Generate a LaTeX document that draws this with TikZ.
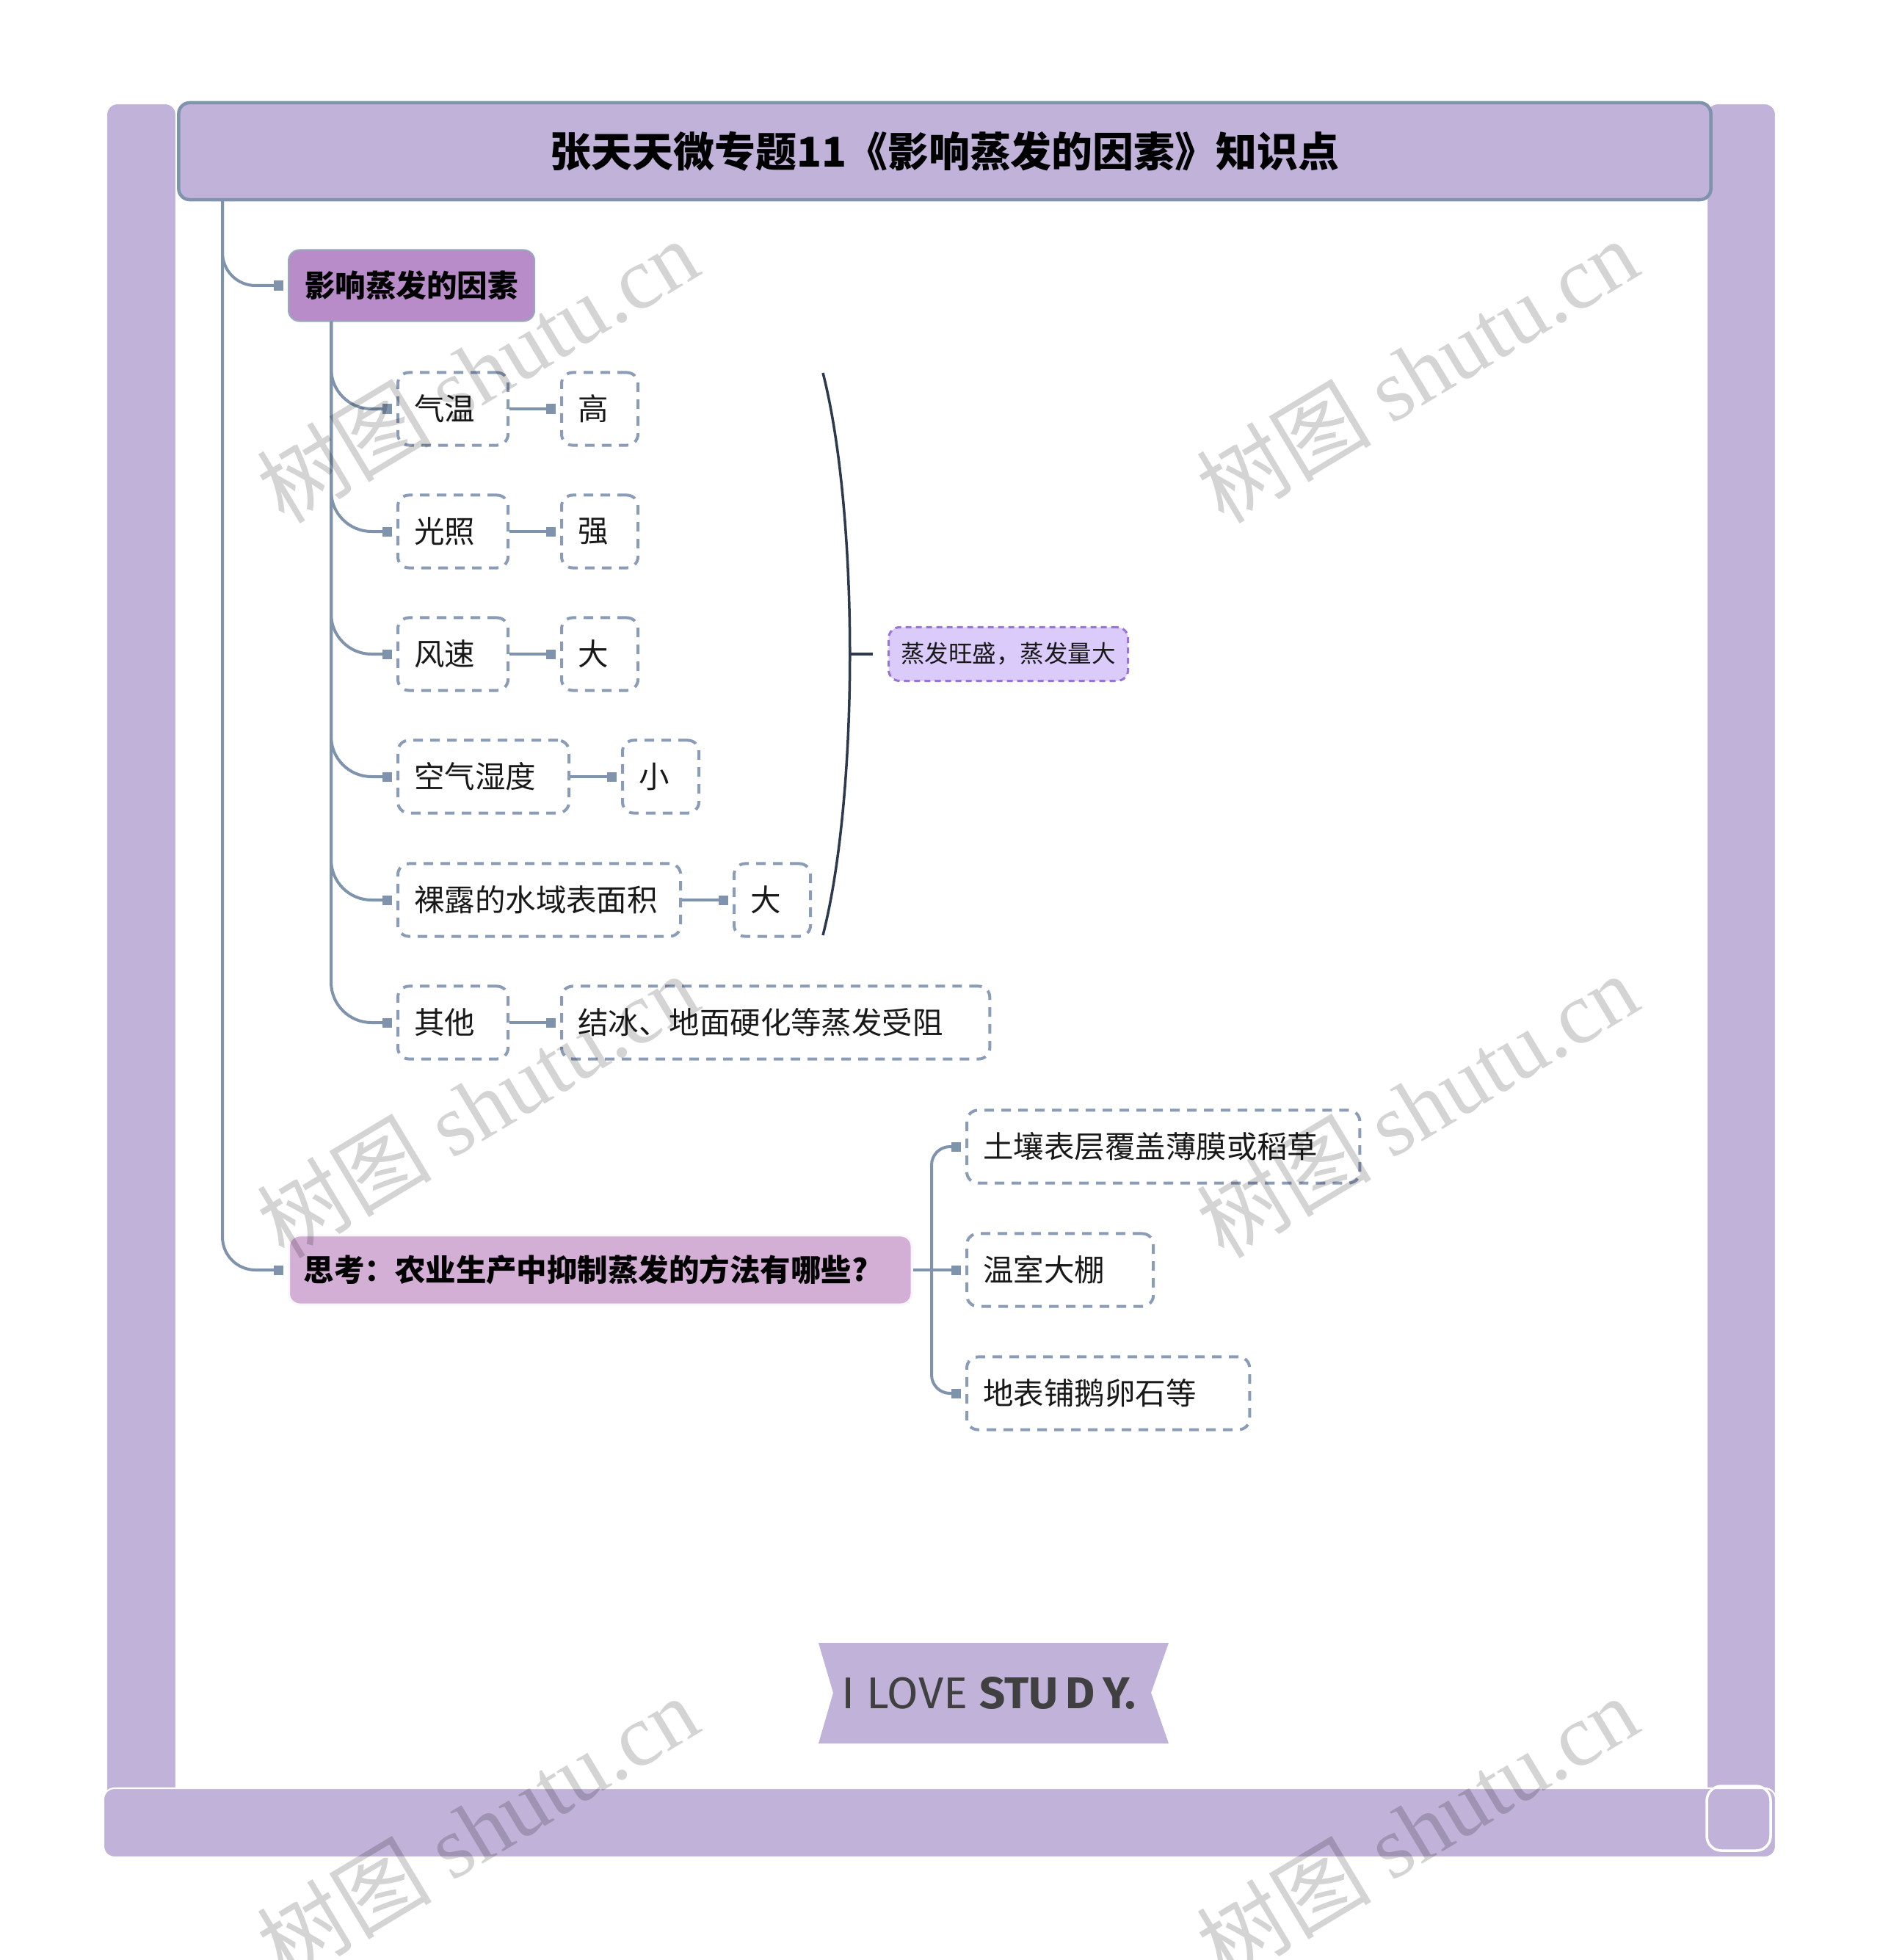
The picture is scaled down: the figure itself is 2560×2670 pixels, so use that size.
\documentclass[tikz,border=0pt]{standalone}
\usepackage{fontspec}
\setmainfont{Noto Sans CJK SC}
\newfontfamily\wmfont{Liberation Serif}
\newfontfamily\bannerfont{Fira Sans}
\usetikzlibrary{arrows.meta}
\definecolor{framepurple}{HTML}{C0B2D8}
\definecolor{linegray}{HTML}{7F93AD}
\definecolor{dashgray}{HTML}{8A9CB6}
\definecolor{topicpurple}{HTML}{B78CC8}
\definecolor{askpink}{HTML}{D3AED5}
\definecolor{resultfill}{HTML}{DACBFB}
\definecolor{resultline}{HTML}{9A73DA}
\definecolor{bracenavy}{HTML}{2D3A4D}
\definecolor{bannertext}{HTML}{404040}
\tikzset{
  bar/.style={fill=framepurple, draw=white, line width=0.6pt, rounded corners=0.15cm},
  titlebox/.style={fill=framepurple, draw=linegray, line width=0.045cm, rounded corners=0.15cm,
    minimum width=20.86cm, minimum height=1.32cm, font=\fontsize{15.9}{18}\selectfont\bfseries},
  topic/.style={fill=topicpurple, draw=linegray!80, line width=0.02cm, rounded corners=0.15cm,
    anchor=west, minimum height=0.97cm, inner xsep=0.2cm, font=\fontsize{11.8}{14}\selectfont\bfseries},
  askbox/.style={fill=askpink, draw=white!90!framepurple, line width=0.03cm, rounded corners=0.15cm,
    anchor=west, minimum height=0.94cm, inner xsep=0.2cm, text width=8.08cm, align=left,
    font=\fontsize{11.8}{14}\selectfont\bfseries},
  leaf/.style={draw=dashgray, line width=0.04cm, dash pattern=on 0.13cm off 0.1cm,
    rounded corners=0.15cm, minimum height=0.99cm, inner xsep=0.22cm, text width=#1,
    align=left, anchor=west, text=black!90, font=\fontsize{11.8}{14}\selectfont},
  result/.style={fill=resultfill, draw=resultline, line width=0.03cm, dash pattern=on 0.08cm off 0.06cm,
    rounded corners=0.15cm, anchor=west, minimum width=3.26cm, minimum height=0.73cm,
    text=black!90, font=\fontsize{9.25}{11}\selectfont},
  conn/.style={draw=linegray, line width=0.04cm, -{Square[length=0.13cm,width=0.13cm]}, shorten >=0.06cm},
  branch/.style={conn, rounded corners=#1},
  brace/.style={draw=bracenavy, line width=0.035cm},
  wmark/.style={text=black!17, rotate=31, font=\fontsize{34}{38}\selectfont}
}
\begin{document}
\begin{tikzpicture}[x=0.01cm, y=-0.01cm]
\useasboundingbox (0,0) rectangle (2560,2670);
\fill[white] (0,0) rectangle (2560,2670);

\draw[bar] (145,141) rectangle (240,2530);
\draw[bar] (2325,141) rectangle (2419,2530);
\draw[bar] (141,2436) rectangle (2419,2530);
\draw[white, line width=1pt, rounded corners=0.2cm] (2325,2433) rectangle (2412,2521);
\node[titlebox] (ttl) at (1287,206) {张天天微专题11《影响蒸发的因素》知识点};

\node[topic, minimum width=3.35cm] (n1) at (392,389) {影响蒸发的因素};
\node[askbox] (n2) at (392,1730) {思考：农业生产中抑制蒸发的方法有哪些?};
\coordinate (mt) at (303,272);
\draw[branch=0.45cm] (mt) |- (n1.west);
\draw[branch=0.45cm] (mt) |- (n2.west);

\node[leaf=1.06cm] (c1) at (540,557) {气温};
\node[leaf=1.06cm] (c2) at (540,724) {光照};
\node[leaf=1.06cm] (c3) at (540,891) {风速};
\node[leaf=1.89cm] (c4) at (540,1058) {空气湿度};
\node[leaf=3.41cm] (c5) at (540,1226) {裸露的水域表面积};
\node[leaf=1.06cm] (c6) at (540,1393) {其他};
\node[leaf=0.6cm] (v1) at (763,557) {高};
\node[leaf=0.6cm] (v2) at (763,724) {强};
\node[leaf=0.6cm] (v3) at (763,891) {大};
\node[leaf=0.6cm] (v4) at (846,1058) {小};
\node[leaf=0.6cm] (v5) at (998,1226) {大};
\node[leaf=5.39cm] (v6) at (763,1393) {结冰、地面硬化等蒸发受阻};
\coordinate (st) at (451,438);
\foreach \c in {c1,c2,c3,c4,c5,c6}
  \draw[branch=0.55cm] (st) |- (\c.west);
\foreach \c/\v in {c1/v1,c2/v2,c3/v3,c4/v4,c5/v5,c6/v6}
  \draw[conn] (\c.east) -- (\v.west);

\coordinate (bt) at (1121,508);
\coordinate (bb) at (1121,1274);
\coordinate (bm) at (1158,891);
\node[result] (res) at (1209,891) {蒸发旺盛，蒸发量大};
\draw[brace] (bt) .. controls (1170,700) and (1170,1082) .. (bb);
\draw[brace, shorten >=0.2cm] (bm) -- (res.west);

\node[leaf=4.91cm] (k1) at (1315,1562) {土壤表层覆盖薄膜或稻草};
\node[leaf=2.10cm] (k2) at (1315,1730) {温室大棚};
\node[leaf=3.41cm] (k3) at (1315,1898) {地表铺鹅卵石等};
\coordinate (t2) at (1269,1730);
\draw[conn] (n2.east) -- (k2.west);
\draw[branch=0.25cm] (t2) |- (k1.west);
\draw[branch=0.25cm] (t2) |- (k3.west);

\fill[framepurple] (1115,2238) -- (1592,2238) -- (1568,2306) -- (1592,2375) -- (1115,2375) -- (1135,2306) -- cycle;
\node[text=bannertext, inner sep=0pt] (motto) at (1347,2306)
  {\resizebox{4.01cm}{0.43cm}{\bannerfont I LOVE \textbf{STU\,D\,Y.}}};

\begin{scope}[blend mode=multiply]
\node[wmark] (wm1) at (650,505) {树图 {\wmfont shutu.cn}};
\node[wmark] (wm2) at (1930,505) {树图 {\wmfont shutu.cn}};
\node[wmark] (wm3) at (650,1506) {树图 {\wmfont shutu.cn}};
\node[wmark] (wm4) at (1930,1506) {树图 {\wmfont shutu.cn}};
\node[wmark] (wm5) at (650,2490) {树图 {\wmfont shutu.cn}};
\node[wmark] (wm6) at (1930,2490) {树图 {\wmfont shutu.cn}};
\end{scope}
\end{tikzpicture}
\end{document}
